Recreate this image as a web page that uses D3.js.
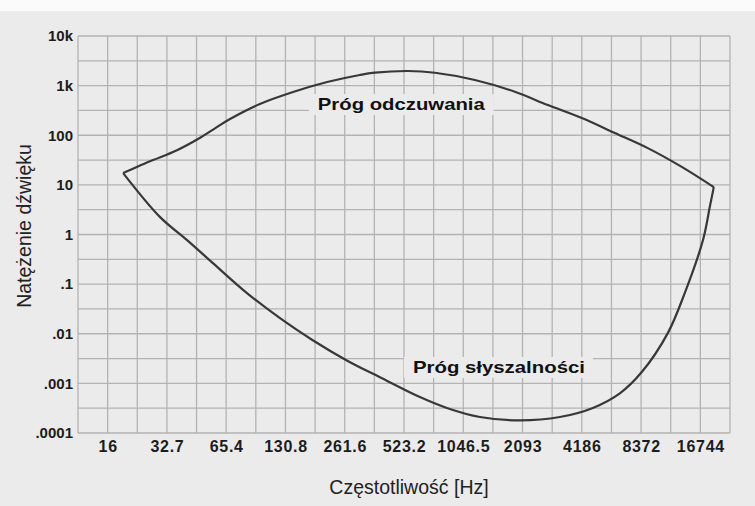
<!DOCTYPE html>
<html>
<head>
<meta charset="utf-8">
<script src="https://cdn.jsdelivr.net/npm/d3@7"></script>
<style>
  body { margin: 0; background: #ffffff; }
  svg { display: block; }
</style>
</head>
<body>
<div id="chart"></div>
<script>
// tick values (C notes per octave) and their printed labels
var xTickValues = [16.35, 32.7, 65.4, 130.8, 261.6, 523.2, 1046.5, 2093, 4186, 8372, 16744];
var xTickLabels = ["16", "32.7", "65.4", "130.8", "261.6", "523.2", "1046.5", "2093", "4186", "8372", "16744"];
var yTickValues = [1e-4, 1e-3, 1e-2, 1e-1, 1, 10, 100, 1000, 10000];
var yTickLabels = [".0001", ".001", ".01", ".1", "1", "10", "100", "1k", "10k"];

// threshold of pain (Próg odczuwania)
var upperFreq = [19.6, 23.3, 27.8, 36.8, 48, 57.4, 68.4, 97, 143, 213, 312, 372, 548, 751, 1199, 1913, 2815, 4186, 6158, 9055, 13470, 19590];
var upperInt  = [17.3, 23.5, 31.6, 50, 88, 138, 212, 426, 743, 1180, 1636, 1820, 1970, 1820, 1300, 753, 406, 222, 111, 55, 23, 9.0];

// threshold of hearing (Próg słyszalności)
var lowerFreq = [19.6, 30.2, 41.4, 56, 83.4, 122.7, 180, 268, 395, 630, 864, 1271, 2027, 3237, 4762, 6530, 8440, 11440, 13950, 17270, 18690, 19590];
var lowerInt  = [17.3, 2.24, 0.77, 0.265, 0.066, 0.0206, 0.0074, 0.0029, 0.00133, 0.00053, 0.00032, 0.00021, 0.00018, 0.00021, 0.00032, 0.00063, 0.00169, 0.0103, 0.066, 0.774, 3.57, 9.0];

var curveLabels = [
    { text: "Próg odczuwania", freq: 191, value: 323, len: 167 },
    { text: "Próg słyszalności", freq: 581, value: 0.00162, len: 172 }
];

var W = 755, H = 506;
var margin = { top: 36, right: 25, bottom: 73, left: 78 };
var bg = "#ebebeb", gridColor = "#b3b3b3", inkColor = "#1c1c1c";

var svg = d3.select("#chart").append("svg")
    .attr("width", W)
    .attr("height", H);

svg.append("rect").attr("width", W).attr("height", H).attr("fill", bg);
svg.append("rect").attr("width", W).attr("height", 11).attr("fill", "#fbfbfb");

var x = d3.scaleLog().base(2)
    .domain([xTickValues[0] / Math.SQRT2, xTickValues[xTickValues.length - 1] * Math.SQRT2])
    .range([margin.left, W - margin.right]);
var y = d3.scaleLog()
    .domain([yTickValues[0], yTickValues[yTickValues.length - 1]])
    .range([H - margin.bottom, margin.top]);

// grid: every half octave and every half decade
var xGrid = d3.range(-1, 2 * xTickValues.length).map(function (k) { return xTickValues[0] * Math.pow(2, k / 2); });
var yGrid = d3.range(-8, 9).map(function (j) { return Math.pow(10, j / 2); });

var grid = svg.append("g").attr("class", "grid")
    .attr("stroke", gridColor)
    .attr("stroke-width", 1.3);
grid.selectAll("line.v").data(xGrid).enter().append("line")
    .attr("class", "v")
    .attr("x1", function (d) { return x(d); })
    .attr("x2", function (d) { return x(d); })
    .attr("y1", y.range()[1])
    .attr("y2", y.range()[0]);
grid.selectAll("line.h").data(yGrid).enter().append("line")
    .attr("class", "h")
    .attr("x1", x.range()[0])
    .attr("x2", x.range()[1])
    .attr("y1", function (d) { return y(d); })
    .attr("y2", function (d) { return y(d); });

// axes (labels only)
var yAxis = d3.axisLeft(y)
    .tickValues(yTickValues)
    .tickSize(0)
    .tickPadding(5)
    .tickFormat(function (d, i) { return yTickLabels[i]; });
var gy = svg.append("g")
    .attr("transform", "translate(" + margin.left + ",0)")
    .call(yAxis);
gy.select(".domain").remove();
gy.selectAll("text")
    .attr("fill", inkColor)
    .style("font-family", "'Liberation Sans', Arial, sans-serif")
    .style("font-weight", "bold")
    .style("font-size", "15px");

var xAxis = d3.axisBottom(x)
    .tickValues(xTickValues)
    .tickSize(0)
    .tickPadding(8)
    .tickFormat(function (d, i) { return xTickLabels[i]; });
var gx = svg.append("g")
    .attr("transform", "translate(0," + (H - margin.bottom) + ")")
    .call(xAxis);
gx.select(".domain").remove();
gx.selectAll("text")
    .attr("fill", inkColor)
    .style("font-family", "'Liberation Sans', Arial, sans-serif")
    .style("font-weight", "bold")
    .style("font-size", "16px")
    .style("letter-spacing", "0.7px");

// curve labels with a small backdrop that hides the grid
var labels = svg.append("g");
curveLabels.forEach(function (c) {
    var t = labels.append("text")
        .attr("x", x(c.freq))
        .attr("y", y(c.value))
        .attr("textLength", c.len)
        .attr("lengthAdjust", "spacingAndGlyphs")
        .attr("fill", "#111")
        .style("font-family", "'Liberation Sans', Arial, sans-serif")
        .style("font-weight", "bold")
        .style("font-size", "16.5px")
        .text(c.text);
    var b = t.node().getBBox();
    labels.insert("rect", "text")
        .attr("x", b.x - 9)
        .attr("y", b.y - 1)
        .attr("width", b.width + 17)
        .attr("height", b.height + 3)
        .attr("fill", bg);
});

// curves
var line = d3.line()
    .x(function (d) { return x(d[0]); })
    .y(function (d) { return y(d[1]); })
    .curve(d3.curveCatmullRom.alpha(0.5));

var upper = d3.zip(upperFreq, upperInt);
var lower = d3.zip(lowerFreq, lowerInt);

svg.append("path")
    .datum(upper)
    .attr("d", line)
    .attr("fill", "none")
    .attr("stroke", "#383838")
    .attr("stroke-width", 2.2);
svg.append("path")
    .datum(lower)
    .attr("d", line)
    .attr("fill", "none")
    .attr("stroke", "#383838")
    .attr("stroke-width", 2.2);

// axis titles
svg.append("text")
    .attr("x", 409)
    .attr("y", 494)
    .attr("text-anchor", "middle")
    .attr("fill", "#222")
    .style("font-family", "'Liberation Sans', Arial, sans-serif")
    .style("font-size", "19.5px")
    .text("Częstotliwość [Hz]");

svg.append("text")
    .attr("transform", "translate(31,226) rotate(-90)")
    .attr("text-anchor", "middle")
    .attr("fill", "#222")
    .style("font-family", "'Liberation Sans', Arial, sans-serif")
    .style("font-size", "19.5px")
    .text("Natężenie dźwięku");
</script>
</body>
</html>
